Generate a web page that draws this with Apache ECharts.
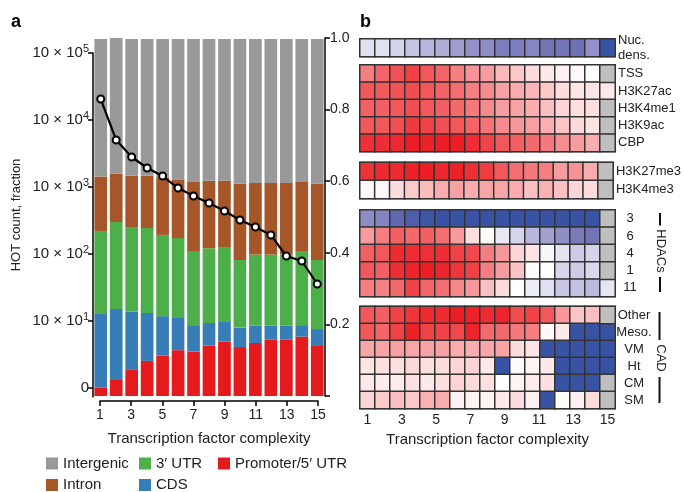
<!DOCTYPE html>
<html><head><meta charset="utf-8">
<script src="https://cdn.jsdelivr.net/npm/echarts@6/dist/echarts.min.js"></script>
<style>html,body{margin:0;padding:0;background:#fff}#c{width:684px;height:492px}</style>
</head><body><div id="c"></div>
<script>
// ---------- Panel a data ----------
const complexity = ['1','2','3','4','5','6','7','8','9','10','11','12','13','14','15'];
const promoter   = [0.024,0.047,0.073,0.098,0.113,0.128,0.124,0.141,0.152,0.137,0.148,0.157,0.157,0.166,0.142];
const cds        = [0.205,0.196,0.162,0.134,0.110,0.090,0.074,0.063,0.055,0.054,0.048,0.039,0.039,0.032,0.045];
const utr3       = [0.232,0.243,0.237,0.237,0.227,0.223,0.205,0.209,0.209,0.189,0.199,0.199,0.199,0.205,0.193];
const intron     = [0.152,0.135,0.143,0.146,0.159,0.164,0.195,0.188,0.185,0.213,0.200,0.200,0.200,0.195,0.213];
const intergenic = [0.384,0.380,0.382,0.382,0.388,0.392,0.399,0.396,0.396,0.404,0.402,0.402,0.402,0.399,0.404];
const hotCount   = [205600,50250,28050,19230,14590,9660,7340,5770,4385,3215,2530,1923,933,787,357];
const xTicks     = [1,3,5,7,9,11,13,15];
const logTicks   = [10,100,1000,10000,100000,1000000];

// ---------- Panel b data (17 complexity bins; null = not available) ----------
const heatBins = ['1','2','3','4','5','6','7','8','9','10','11','12','13','14','15','16','17'];
const nucDens  = [-0.12,-0.12,-0.17,-0.23,-0.29,-0.34,-0.41,-0.48,-0.5,-0.6,-0.6,-0.54,-0.66,-0.66,-0.69,-0.48,-1];
const tss      = [0.6,0.7,0.78,0.85,0.76,0.7,0.6,0.52,0.47,0.33,0.25,0.16,0.1,0.07,0.03,0,null];
const h3k27ac  = [0.76,0.75,0.78,0.8,0.76,0.71,0.67,0.6,0.55,0.45,0.4,0.35,0.26,0.16,0.12,0.12,0.1];
const h3k4me1  = [0.72,0.72,0.76,0.79,0.76,0.72,0.68,0.62,0.55,0.47,0.44,0.39,0.3,0.2,0.15,0.15,null];
const h3k9ac   = [0.76,0.76,0.79,0.88,0.84,0.79,0.76,0.7,0.64,0.55,0.5,0.46,0.38,0.27,0.17,0.13,null];
const cbp      = [0.92,0.93,0.95,1,0.98,1,1,0.93,0.84,0.76,0.72,0.68,0.62,0.54,0.47,0.4,null];
const h3k27me3 = [0.91,0.94,0.94,0.98,1,0.96,0.98,0.92,0.87,0.76,0.67,0.62,0.6,0.48,0.52,0.4,null];
const h3k4me3  = [0.03,0.04,0.16,0.24,0.31,0.4,0.45,0.4,0.43,0.43,0.4,0.3,0.37,0.3,0.19,0.16,null];
const hdac3    = [-0.5,-0.55,-0.76,-0.87,-0.97,-1,-1,-1,-1,-1,-1,-1,-1,-1,-1,-1,null];
const hdac6    = [0.48,0.6,0.72,0.68,0.72,0.66,0.48,0.15,0.02,-0.09,-0.16,-0.29,-0.4,-0.49,-0.62,-0.67,null];
const hdac4    = [0.72,0.76,0.94,0.93,0.92,0.93,0.84,0.82,0.6,0.5,0.19,0.13,-0.03,-0.11,-0.2,-0.17,null];
const hdac1    = [0.76,0.72,0.93,0.97,1,0.97,0.9,0.85,0.6,0.48,0.28,0.02,0,-0.16,-0.2,-0.15,null];
const hdac11   = [0.6,0.58,0.68,0.84,0.7,0.67,0.56,0.5,0.3,0.16,0,-0.07,-0.12,-0.22,-0.24,-0.27,-0.1];
const cadOther = [0.76,0.72,0.84,0.9,0.94,0.94,1,0.98,0.94,0.97,0.8,0.84,0.75,0.5,0.27,0.3,null];
const cadMeso  = [0.76,0.7,0.84,0.98,0.84,0.84,0.82,0.97,0.68,0.68,0.62,0.6,0.03,0.1,-1,-1,-1];
const cadVM    = [0.42,0.44,0.46,0.43,0.44,0.45,0.4,0.38,0.42,0.44,0.16,0.12,-1,-1,-1,-1,-1];
const cadHt    = [0.12,0.15,0.15,0.18,0.15,0.16,0.2,0.2,0.1,-1,0.02,0.05,0.1,-1,-1,-1,-1];
const cadCM    = [0.1,0.09,0.09,0.15,0.1,0.15,0.2,0.17,0.14,0,0.05,0.09,0.15,-1,-1,-1,null];
const cadSM    = [0.19,0.24,0.3,0.26,0.37,0.4,0.06,0.06,0.06,0.1,0.16,0.07,-1,0.02,0.07,0.16,null];

const groupLabels = [
  ['Nuc.\ndens.'],
  ['TSS','H3K27ac','H3K4me1','H3K9ac','CBP'],
  ['H3K27me3','H3K4me3'],
  ['3','6','4','1','11'],
  ['Other','Meso.','VM','Ht','CM','SM']
];
const groupRows = [
  [nucDens],
  [tss,h3k27ac,h3k4me1,h3k9ac,cbp],
  [h3k27me3,h3k4me3],
  [hdac3,hdac6,hdac4,hdac1,hdac11],
  [cadOther,cadMeso,cadVM,cadHt,cadCM,cadSM]
];

const FONT = '"Liberation Sans", Arial, Helvetica, sans-serif';
const TXT = '#222';
const colors = {promoter:'#e41a1c', cds:'#377eb8', utr:'#4daf4a', intron:'#a65628', intergenic:'#999999'};

const chart = echarts.init(document.getElementById('c'), null, {renderer:'canvas'});

const heatGridPos = [
  {top:39, height:17.5},
  {top:65, height:86.5},
  {top:162.5, height:36},
  {top:210, height:86.5},
  {top:306.5, height:102}
];
const labelCfg = [
  {align:'left', margin:3, lineHeight:15},
  {align:'left', margin:3},
  {align:'left', margin:3},
  {align:'center', margin:15},
  {align:'center', margin:19}
];

const grids = [
  {left:93, top:38, width:232, height:358},
  {left:93, top:53, width:232, height:344},
  {left:100, top:400, width:218, height:1}
];
const xAxes = [
  {gridIndex:0, type:'category', data:complexity, show:false},
  {gridIndex:1, type:'category', data:complexity, show:false},
  {gridIndex:2, type:'value', min:1, max:15, interval:2,
   axisLine:{lineStyle:{color:'#000', width:1.5}},
   axisTick:{length:5, lineStyle:{color:'#000', width:1.5}, customValues:xTicks},
   axisLabel:{fontSize:14, color:TXT, margin:7, customValues:xTicks},
   splitLine:{show:false},
   name:'Transcription factor complexity', nameLocation:'middle', nameGap:30,
   nameTextStyle:{fontSize:15, color:TXT}}
];
const yAxes = [
  {gridIndex:0, type:'value', position:'right', min:0, max:1, interval:0.2,
   axisLine:{show:true, lineStyle:{color:'#000', width:1.5}},
   axisTick:{show:true, length:5, lineStyle:{color:'#000', width:1.5}},
   axisLabel:{fontSize:14, color:TXT, margin:5, formatter:v => v===0 ? '' : v.toFixed(1)},
   splitLine:{show:false}},
  {gridIndex:1, type:'log', min:7.35, max:1e6, position:'left',
   axisLine:{show:true, lineStyle:{color:'#000', width:1.5}},
   axisTick:{show:true, length:5, lineStyle:{color:'#000', width:1.5}, customValues:logTicks},
   axisLabel:{color:TXT, margin:4, customValues:logTicks,
     formatter: v => { if (Math.abs(v-10)<1e-6) return '{b|0}'; const e = Math.round(Math.log10(v)) - 1; return '{b|10 × 10}{s|' + e + '}'; },
     rich:{b:{fontSize:15, color:TXT, lineHeight:20, fontFamily:FONT}, s:{fontSize:11, color:TXT, lineHeight:8, verticalAlign:'top', fontFamily:FONT}}},
   splitLine:{show:false},
   name:'HOT count, fraction', nameLocation:'middle', nameGap:70, nameRotate:90,
   nameTextStyle:{fontSize:13, color:TXT, padding:[0,0,0,20]}},
  {gridIndex:2, type:'value', show:false}
];

const series = [
  {name:'Promoter/5′ UTR', type:'bar', stack:'a', data:promoter, color:colors.promoter},
  {name:'CDS', type:'bar', stack:'a', data:cds, color:colors.cds},
  {name:'3′ UTR', type:'bar', stack:'a', data:utr3, color:colors.utr},
  {name:'Intron', type:'bar', stack:'a', data:intron, color:colors.intron},
  {name:'Intergenic', type:'bar', stack:'a', data:intergenic, color:colors.intergenic}
].map(s => Object.assign(s, {xAxisIndex:0, yAxisIndex:0, barCategoryGap:'18%'}));

series.push({type:'line', xAxisIndex:1, yAxisIndex:1, data:hotCount, symbol:'circle', symbolSize:7,
  itemStyle:{color:'#fff', borderColor:'#000', borderWidth:2},
  lineStyle:{color:'#000', width:2.2}, z:10});

const heatSeriesIdx = [];
groupRows.forEach((rows, g) => {
  const gi = grids.length;
  grids.push({left:360, width:255, top:heatGridPos[g].top, height:heatGridPos[g].height,
    show:true, borderColor:'#333', borderWidth:1.5, backgroundColor:'transparent'});
  xAxes.push({gridIndex:gi, type:'category', data:heatBins, show:false});
  yAxes.push({gridIndex:gi, type:'category', data:groupLabels[g], inverse:true, position:'right',
    axisLine:{show:false}, axisTick:{show:false}, splitLine:{show:false},
    axisLabel:Object.assign({fontSize:13, color:TXT}, labelCfg[g])});
  const vals = [], na = [];
  rows.forEach((row, r) => row.forEach((v, c) => {
    if (v === null) na.push([c, r, 0]); else vals.push([c, r, v]);
  }));
  heatSeriesIdx.push(series.length);
  series.push({type:'heatmap', xAxisIndex:gi, yAxisIndex:gi, data:vals,
    itemStyle:{borderColor:'#333', borderWidth:1.5}});
  if (na.length) series.push({type:'heatmap', xAxisIndex:gi, yAxisIndex:gi, data:na,
    itemStyle:{color:'#bfbfbf', borderColor:'#333', borderWidth:1.5}});
});

const gb = grids.length;
grids.push({left:367.5, top:408, width:240, height:1});
xAxes.push({gridIndex:gb, type:'value', min:1, max:15, interval:2,
  axisLine:{show:false}, axisTick:{show:false}, splitLine:{show:false},
  axisLabel:{fontSize:14, color:TXT, margin:4, customValues:xTicks},
  name:'Transcription factor complexity', nameLocation:'middle', nameGap:23,
  nameTextStyle:{fontSize:15, color:TXT}});
yAxes.push({gridIndex:gb, type:'value', show:false});

const legendItems = [
  {name:'Intergenic', left:46, row:0},
  {name:'Intron', left:46, row:1},
  {name:'3′ UTR', left:139, row:0},
  {name:'CDS', left:139, row:1},
  {name:'Promoter/5′ UTR', left:218, row:0}
];
const rowTops = [456, 477.5];
const legends = legendItems.map(it => ({
  data:[it.name], left:it.left, top:rowTops[it.row], padding:0,
  itemWidth:12, itemHeight:12, icon:'rect', selectedMode:false,
  textStyle:{fontSize:15, color:TXT}
}));

const option = {
  animation:false,
  textStyle:{fontFamily:FONT},
  grid:grids, xAxis:xAxes, yAxis:yAxes, series:series,
  visualMap:{type:'continuous', min:-1, max:1, show:false, seriesIndex:heatSeriesIdx, dimension:2,
    inRange:{color:['#3953a4','#6468b1','#8d8dc5','#c0bee0','#ffffff','#fbc9ca','#f7979a','#f2595c','#ec1d24']}},
  legend:legends,
  graphic:[
    {type:'text', left:11, top:13, style:{text:'a', font:'bold 18px ' + FONT, fill:'#000'}},
    {type:'text', left:360, top:13, style:{text:'b', font:'bold 18px ' + FONT, fill:'#000'}},
    {type:'text', x:661, y:251, rotation:-Math.PI/2, style:{text:'HDACs', fontSize:13, fontFamily:FONT, fill:TXT, align:'center', verticalAlign:'middle'}},
    {type:'text', x:660.5, y:358, rotation:-Math.PI/2, style:{text:'CAD', fontSize:13, fontFamily:FONT, fill:TXT, align:'center', verticalAlign:'middle'}},
    {type:'line', shape:{x1:660, y1:213, x2:660, y2:225.5}, style:{stroke:'#111', lineWidth:2}},
    {type:'line', shape:{x1:660, y1:277, x2:660, y2:292}, style:{stroke:'#111', lineWidth:2}},
    {type:'line', shape:{x1:659.5, y1:312, x2:659.5, y2:340}, style:{stroke:'#111', lineWidth:2}},
    {type:'line', shape:{x1:659.5, y1:377, x2:659.5, y2:403}, style:{stroke:'#111', lineWidth:2}}
  ]
};
chart.setOption(option);
</script>
</body></html>
